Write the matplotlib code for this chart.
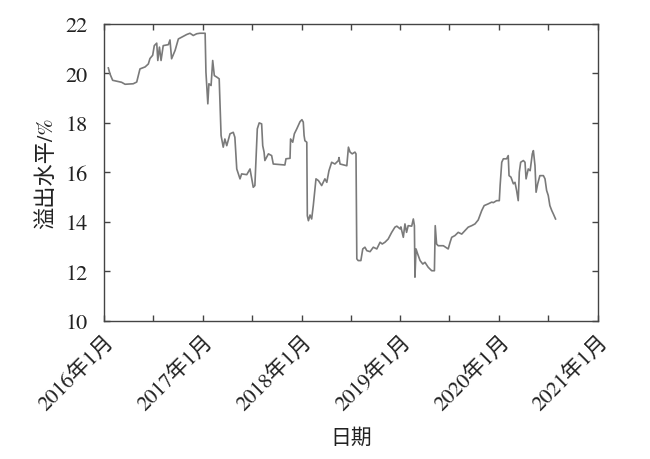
import matplotlib
matplotlib.use("Agg")
import matplotlib.pyplot as plt
import matplotlib.dates as mdates
import pandas as pd

dates = [
    "2016-01-17", "2016-01-23", "2016-02-02", "2016-03-06", "2016-03-19", "2016-04-18",
    "2016-05-01", "2016-05-13", "2016-06-01", "2016-06-13", "2016-06-19", "2016-06-29",
    "2016-07-05", "2016-07-14", "2016-07-18", "2016-07-24", "2016-07-30", "2016-08-07",
    "2016-08-26", "2016-09-01", "2016-09-07", "2016-09-20", "2016-10-02", "2016-10-14",
    "2016-11-02", "2016-11-14", "2016-11-26", "2016-12-09", "2016-12-21", "2017-01-09",
    "2017-01-12", "2017-01-19", "2017-01-23", "2017-01-31", "2017-02-06", "2017-02-12",
    "2017-02-21", "2017-03-02", "2017-03-09", "2017-03-17", "2017-03-23", "2017-03-30",
    "2017-04-11", "2017-04-23", "2017-04-29", "2017-05-06", "2017-05-18", "2017-05-24",
    "2017-06-12", "2017-06-24", "2017-07-06", "2017-07-12", "2017-07-21", "2017-07-28",
    "2017-08-06", "2017-08-10", "2017-08-15", "2017-08-18", "2017-08-31", "2017-09-12",
    "2017-09-18", "2017-10-31", "2017-11-04", "2017-11-19", "2017-11-21", "2017-11-29",
    "2017-12-05", "2017-12-14", "2017-12-26", "2018-01-02", "2018-01-07", "2018-01-10",
    "2018-01-13", "2018-01-20", "2018-01-22", "2018-01-26", "2018-02-01", "2018-02-07",
    "2018-02-13", "2018-02-23", "2018-03-04", "2018-03-16", "2018-03-28", "2018-04-04",
    "2018-04-12", "2018-04-22", "2018-05-04", "2018-05-17", "2018-05-19", "2018-05-23",
    "2018-06-17", "2018-06-23", "2018-06-29", "2018-07-07", "2018-07-17", "2018-07-21",
    "2018-07-24", "2018-07-29", "2018-08-08", "2018-08-15", "2018-08-23", "2018-08-30",
    "2018-09-11", "2018-09-23", "2018-10-06", "2018-10-18", "2018-10-26", "2018-11-05",
    "2018-11-17", "2018-11-30", "2018-12-12", "2018-12-19", "2018-12-31", "2019-01-03",
    "2019-01-12", "2019-01-18", "2019-01-24", "2019-01-30", "2019-02-12", "2019-02-18",
    "2019-02-22", "2019-02-24", "2019-02-28", "2019-03-06", "2019-03-15", "2019-03-25",
    "2019-04-02", "2019-04-14", "2019-04-27", "2019-05-07", "2019-05-10", "2019-05-15",
    "2019-05-21", "2019-06-09", "2019-06-27", "2019-07-04", "2019-07-10", "2019-07-22",
    "2019-08-03", "2019-08-16", "2019-08-28", "2019-09-09", "2019-09-22", "2019-10-04",
    "2019-10-16", "2019-10-29", "2019-11-07", "2019-11-22", "2019-12-05", "2019-12-11",
    "2019-12-23", "2020-01-02", "2020-01-05", "2020-01-11", "2020-01-17", "2020-01-29",
    "2020-02-04", "2020-02-07", "2020-02-14", "2020-02-23", "2020-02-29", "2020-03-06",
    "2020-03-12", "2020-03-16", "2020-03-21", "2020-03-31", "2020-04-06", "2020-04-10",
    "2020-04-18", "2020-04-25", "2020-05-03", "2020-05-07", "2020-05-13", "2020-05-17",
    "2020-05-23", "2020-05-31", "2020-06-13", "2020-06-19", "2020-06-25", "2020-07-01",
    "2020-07-07", "2020-07-14", "2020-07-20", "2020-07-28",
]
spillover = [
    20.22, 19.98, 19.72, 19.64, 19.56, 19.58,
    19.65, 20.18, 20.26, 20.38, 20.60, 20.73,
    21.12, 21.22, 20.52, 21.06, 20.52, 21.12,
    21.16, 21.35, 20.59, 20.93, 21.39, 21.46,
    21.57, 21.62, 21.53, 21.60, 21.62, 21.62,
    20.05, 18.77, 19.58, 19.51, 20.52, 19.91,
    19.85, 19.78, 17.49, 17.02, 17.35, 17.08,
    17.56, 17.62, 17.42, 16.14, 15.74, 15.94,
    15.91, 16.14, 15.40, 15.47, 17.76, 18.00,
    17.96, 17.08, 16.82, 16.48, 16.75, 16.68,
    16.34, 16.30, 16.55, 16.57, 17.35, 17.22,
    17.56, 17.76, 18.05, 18.13, 18.03, 17.49,
    17.28, 17.22, 14.25, 14.05, 14.28, 14.12,
    14.66, 15.74, 15.67, 15.47, 15.74, 15.60,
    16.07, 16.41, 16.34, 16.48, 16.60, 16.34,
    16.27, 17.02, 16.82, 16.75, 16.82, 16.75,
    12.51, 12.44, 12.44, 12.91, 12.98, 12.84,
    12.80, 12.98, 12.91, 13.18, 13.11, 13.18,
    13.31, 13.58, 13.79, 13.83, 13.72, 13.80,
    13.38, 13.92, 13.58, 13.85, 13.83, 14.12,
    13.85, 11.77, 12.91, 12.71, 12.44, 12.30,
    12.37, 12.17, 12.03, 12.03, 13.85, 13.11,
    13.04, 13.04, 12.91, 13.18, 13.38, 13.45,
    13.58, 13.51, 13.65, 13.79, 13.85, 13.92,
    14.08, 14.46, 14.66, 14.73, 14.80, 14.78,
    14.86, 14.86, 15.47, 16.41, 16.55, 16.55,
    16.68, 15.87, 15.81, 15.54, 15.60, 15.27,
    14.86, 16.01, 16.41, 16.48, 16.41, 15.74,
    16.14, 16.07, 16.75, 16.88, 16.27, 15.20,
    15.54, 15.87, 15.87, 15.74, 15.27, 15.07,
    14.66, 14.46, 14.32, 14.12,
]
x_tick_labels = ["2016年1月", "2017年1月", "2018年1月", "2019年1月", "2020年1月", "2021年1月"]
x_tick_dates = ["2016-01-01", "2017-01-01", "2018-01-01", "2019-01-01", "2020-01-01", "2021-01-01"]
y_ticks = [10, 12, 14, 16, 18, 20, 22]

plt.rcParams["font.family"] = ["STIXGeneral", "Noto Sans CJK SC", "DejaVu Sans"]

fig = plt.figure(figsize=(6.5, 4.6), dpi=100)
ax = fig.add_axes([0.16, 0.30, 0.76, 0.646])

ax.plot(pd.to_datetime(dates), spillover, color="#7a7a7a", lw=1.2)

ax.set_xlim(pd.Timestamp("2016-01-01"), pd.Timestamp("2021-01-01"))
ax.set_ylim(10, 22)
ax.set_xticks(pd.to_datetime(x_tick_dates))
ax.set_xticklabels(x_tick_labels, rotation=45, ha="right", va="top",
                   rotation_mode="anchor", fontsize=15.5)
ax.xaxis.set_minor_locator(mdates.MonthLocator(bymonth=[7]))
ax.set_yticks(y_ticks)
ax.set_yticklabels([str(v) for v in y_ticks], fontsize=16)

ax.tick_params(which="both", direction="in", top=True, right=True, length=4,
               width=1, color="#444444", labelcolor="#222222")
ax.tick_params(axis="x", which="major", pad=7)
ax.tick_params(axis="y", which="major", pad=12)
for s in ax.spines.values():
    s.set_color("#444444")
    s.set_linewidth(1)

ax.set_ylabel("溢出水平/%", fontsize=16, color="#222222", labelpad=6)
ax.set_xlabel("日期", fontsize=15, color="#222222", labelpad=10)

fig.savefig("out.png", dpi=100)
